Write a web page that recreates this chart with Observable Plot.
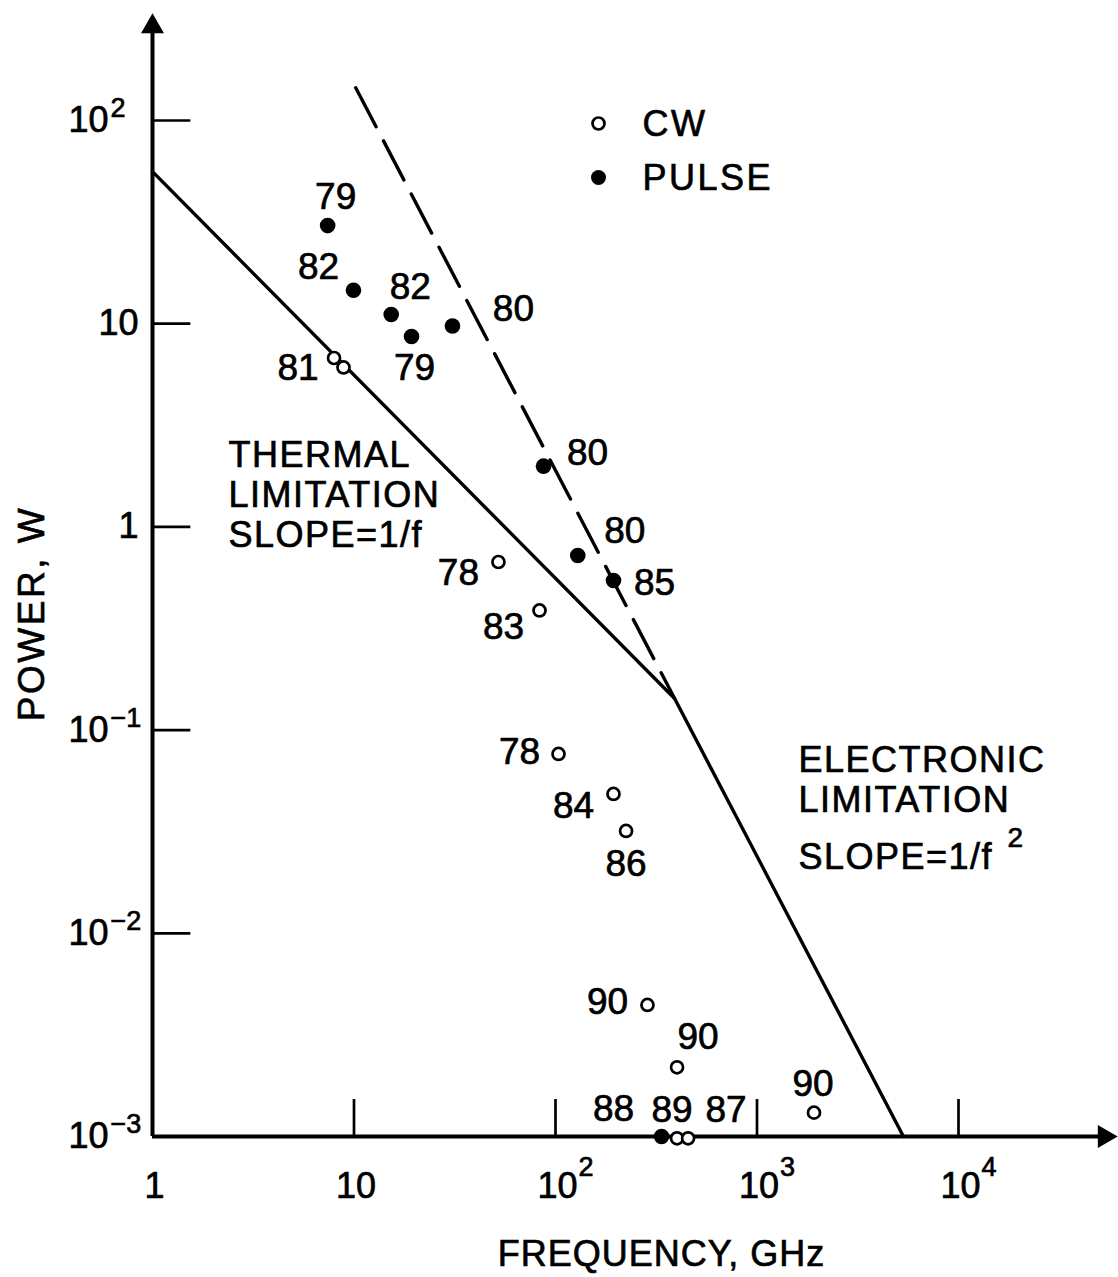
<!DOCTYPE html>
<html>
<head>
<meta charset="utf-8">
<script src="https://cdn.jsdelivr.net/npm/d3@7"></script>
<script src="https://cdn.jsdelivr.net/npm/@observablehq/plot@0.6"></script>
<style>
  html, body { margin: 0; padding: 0; background: #fff; }
  #chart svg { display: block; }
  #chart svg text { stroke: #000; stroke-width: 0.7px; }
  #chart text[aria-label="annotation"] { letter-spacing: 1.5px; }
  #chart text[aria-label="legend-text"] { letter-spacing: 2.5px; }
  #chart text[aria-label="y-title"] { letter-spacing: 2.5px; }
  #chart text[aria-label="x-title"] { letter-spacing: 1px; }
</style>
</head>
<body>
<div id="chart"></div>
<script>
// ---------- data ----------
// Pulsed sources (filled dots)
const pulseFreq  = [7.4, 9.94, 15.3, 19.3, 30.8, 87.2, 129, 194, 336];
const pulsePower = [30.4, 14.6, 11.1, 8.65, 9.74, 1.99, 0.723, 0.545, 0.001];
const pulseYear  = ["79", "82", "82", "79", "80", "80", "80", "85", "88"];

// CW sources (open circles)
const cwFreq  = [7.96, 8.87, 52.1, 83.3, 103.5, 194, 224, 286, 401, 1918, 401, 455];
const cwPower = [6.78, 6.09, 0.672, 0.388, 0.0763, 0.0485, 0.0319, 0.00444, 0.00219, 0.00131, 0.00098, 0.00098];
const cwYear  = ["81", "", "78", "83", "78", "84", "86", "90", "90", "90", "89", "87"];

// Limit lines
const limitFreq  = [1, 390, 5330];      // thermal (1/f) then electronic (1/f^2)
const limitPower = [56, 0.143, 0.001];
const dashFreq   = [10.2, 390];
const dashPower  = [145, 0.143];

// Axes
const xTicks    = [1, 10, 100, 1000, 10000];
const xTickBase = ["1", "10", "10", "10", "10"];
const xTickExp  = ["", "", "2", "3", "4"];
const yTicks    = [1e-3, 1e-2, 1e-1, 1, 10, 100];
const yTickBase = ["10", "10", "10", "1", "10", "10"];
const yTickExp  = ["\u22123", "\u22122", "\u22121", "", "", "2"];

// ---------- layout (pixel nudges for labels) ----------
const pulseLabelDx = [8, -35, 19, 3, 61, 44, 47, 41, -48];
const pulseLabelDy = [-28, -23, -27, 32, -17, -13, -24, 3, -27];
const cwLabelDx = [-36, 0, -40, -36, -39, -40, 0, -40, 21, -1, -5, 38];
const cwLabelDy = [10, 0, 11, 17, -2, 12, 33, -3, -30, -29, -28, -28];

const X_AXIS_END = 53000;  // where the x-axis arrow sits
const Y_AXIS_END = 290;    // where the y-axis arrow sits
const X_TICK_TOP = 0.00152;
const Y_TICK_END = 1.55;

const LABEL_FS = 37;
const TICK_FS = 36;
const EXP_FS = 27;

const xIdx = d3.range(xTicks.length);
const yIdx = d3.range(yTicks.length);
const yWithExp = yIdx.filter(i => yTickExp[i]);
const yNoExp = yIdx.filter(i => !yTickExp[i]);

const pulseLabels = pulseYear.map((t, i) => Plot.text([i], {
  x: j => pulseFreq[j], y: j => pulsePower[j], text: j => pulseYear[j],
  dx: pulseLabelDx[i], dy: pulseLabelDy[i], fontSize: LABEL_FS,
  textAnchor: "middle", lineAnchor: "middle"
}));
const cwLabels = cwYear.map((t, i) => t ? Plot.text([i], {
  x: j => cwFreq[j], y: j => cwPower[j], text: j => cwYear[j],
  dx: cwLabelDx[i], dy: cwLabelDy[i], fontSize: LABEL_FS,
  textAnchor: "middle", lineAnchor: "middle"
}) : null).filter(Boolean);

const tag = name => () => name;

const chart = Plot.plot({
  width: 1118,
  height: 1277,
  marginLeft: 152,
  marginRight: 160,
  marginTop: 120,
  marginBottom: 141,
  x: {type: "log", domain: [1, 1e4], axis: null},
  y: {type: "log", domain: [1e-3, 1e2], axis: null},
  style: {background: "white", color: "black", fontFamily: "'Liberation Sans', Arial, Helvetica, sans-serif"},
  marks: [
    // axes lines with arrowheads
    Plot.ruleX([1], {y1: 1e-3, y2: Y_AXIS_END, stroke: "black", strokeWidth: 4}),
    Plot.ruleY([1e-3], {x1: 1, x2: X_AXIS_END, stroke: "black", strokeWidth: 4}),
    Plot.dot([0], {x: 1, y: Y_AXIS_END, symbol: "triangle", r: 8.5, fill: "black", stroke: "none"}),
    Plot.dot([0], {x: X_AXIS_END, y: 1e-3, symbol: "triangle", r: 8.5, rotate: 90, fill: "black", stroke: "none"}),
    // ticks
    Plot.ruleY(yTicks.filter(v => v > 1e-3), {x1: 1, x2: Y_TICK_END, stroke: "black", strokeWidth: 2.7}),
    Plot.ruleX(xTicks.filter(v => v > 1), {y1: 1e-3, y2: X_TICK_TOP, stroke: "black", strokeWidth: 2.7}),
    // y tick labels
    Plot.text(yWithExp, {y: i => yTicks[i], text: i => yTickBase[i], frameAnchor: "left", textAnchor: "end", lineAnchor: "middle", dx: -44, fontSize: TICK_FS}),
    Plot.text(yWithExp, {y: i => yTicks[i], text: i => yTickExp[i], frameAnchor: "left", textAnchor: "start", lineAnchor: "middle", dx: -42, dy: -12, fontSize: EXP_FS}),
    Plot.text(yNoExp, {y: i => yTicks[i], text: i => yTickBase[i], frameAnchor: "left", textAnchor: "end", lineAnchor: "middle", dx: -14, fontSize: TICK_FS}),
    // x tick labels
    Plot.text(xIdx, {x: i => xTicks[i], text: i => xTickBase[i], frameAnchor: "bottom", textAnchor: "middle", lineAnchor: "middle", dx: 2, dy: 50, fontSize: TICK_FS}),
    Plot.text(xIdx.filter(i => xTickExp[i]), {x: i => xTicks[i], text: i => xTickExp[i], frameAnchor: "bottom", textAnchor: "start", lineAnchor: "middle", dx: 23, dy: 31, fontSize: EXP_FS}),
    // limit lines
    Plot.line(limitFreq, {x: limitFreq, y: limitPower, stroke: "black", strokeWidth: 3.4}),
    Plot.line(dashFreq, {x: dashFreq, y: dashPower, stroke: "black", strokeWidth: 3.4, strokeDasharray: "44,16"}),
    // data points
    Plot.dot(pulseFreq, {x: pulseFreq, y: pulsePower, r: 7.8, fill: "black", stroke: "none"}),
    Plot.dot(cwFreq, {x: cwFreq, y: cwPower, r: 6, fill: "white", stroke: "black", strokeWidth: 2.7}),
    ...pulseLabels,
    ...cwLabels,
    // annotations
    Plot.text(["THERMAL\nLIMITATION\nSLOPE=1/f"], {frameAnchor: "top-left", textAnchor: "start", lineAnchor: "top", dx: 76, dy: 318, lineHeight: 1.11, fontSize: 36, ariaLabel: tag("annotation")}),
    Plot.text(["ELECTRONIC\nLIMITATION"], {frameAnchor: "top-left", textAnchor: "start", lineAnchor: "top", dx: 646, dy: 623, lineHeight: 1.11, fontSize: 36, ariaLabel: tag("annotation")}),
    Plot.text(["SLOPE=1/f"], {frameAnchor: "top-left", textAnchor: "start", lineAnchor: "top", dx: 646, dy: 723, fontSize: 36, ariaLabel: tag("annotation")}),
    Plot.text(["2"], {frameAnchor: "top-left", textAnchor: "start", lineAnchor: "top", dx: 855, dy: 707, fontSize: 28}),
    // legend
    Plot.dot([0], {frameAnchor: "top-left", dx: 446, dy: 3, r: 6, fill: "white", stroke: "black", strokeWidth: 2.7}),
    Plot.dot([0], {frameAnchor: "top-left", dx: 446, dy: 57, r: 7.5, fill: "black", stroke: "none"}),
    Plot.text(["CW"], {frameAnchor: "top-left", textAnchor: "start", lineAnchor: "middle", dx: 490, dy: 4, fontSize: 36, ariaLabel: tag("legend-text")}),
    Plot.text(["PULSE"], {frameAnchor: "top-left", textAnchor: "start", lineAnchor: "middle", dx: 490, dy: 58, fontSize: 36, ariaLabel: tag("legend-text")}),
    // axis titles
    Plot.text(["POWER, W"], {frameAnchor: "left", textAnchor: "middle", lineAnchor: "middle", rotate: -90, dx: -120, dy: -15, fontSize: 37, ariaLabel: tag("y-title")}),
    Plot.text(["FREQUENCY, GHz"], {frameAnchor: "bottom", textAnchor: "middle", lineAnchor: "middle", dx: 106, dy: 118, fontSize: 36, ariaLabel: tag("x-title")})
  ]
});
document.getElementById("chart").appendChild(chart);
</script>
</body>
</html>
